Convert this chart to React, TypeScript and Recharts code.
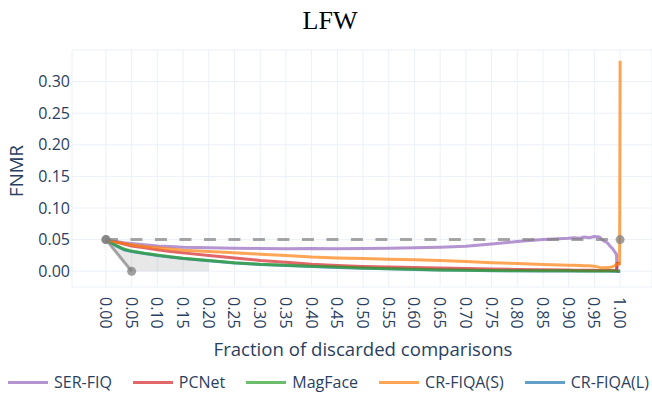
import React from 'react';
import { ComposedChart, Line, Area, XAxis, YAxis, CartesianGrid } from 'recharts';

// Fraction of discarded comparisons (shared x grid for all curves)
const FRACTIONS = [
  0, 0.01, 0.02, 0.035, 0.05, 0.075, 0.1, 0.125, 0.15, 0.2,
  0.25, 0.3, 0.35, 0.4, 0.45, 0.5, 0.55, 0.6, 0.65, 0.7,
  0.75, 0.8, 0.85, 0.9, 0.91, 0.92, 0.93, 0.94, 0.95, 0.96,
  0.965, 0.97, 0.975, 0.98, 0.985, 0.99, 0.993, 0.994, 0.999, 1.0,
];

// FNMR per quality method
const SER_FIQ = [
  0.05, 0.048, 0.047, 0.045, 0.044, 0.042, 0.04, 0.039, 0.038, 0.037,
  0.0365, 0.036, 0.0355, 0.036, 0.0355, 0.036, 0.0365, 0.037, 0.038, 0.0395,
  0.043, 0.047, 0.05, 0.052, 0.053, 0.052, 0.054, 0.053, 0.055, 0.054,
  0.05, 0.047, 0.045, 0.04, 0.036, 0.03, 0.027, 0, 0, 0,
];
const PCNET = [
  0.05, 0.048, 0.046, 0.043, 0.04, 0.037, 0.034, 0.031, 0.029, 0.025,
  0.021, 0.017, 0.014, 0.011, 0.009, 0.0075, 0.0065, 0.0058, 0.005, 0.0042,
  0.0035, 0.0028, 0.0022, 0.0018, 0.0017, 0.0016, 0.0015, 0.0015, 0.0014, 0.0013,
  0.0013, 0.0012, 0.0012, 0.0011, 0.0011, 0.001, 0.001, 0.0125, 0.0125, 0.0125,
];
const MAGFACE = [
  0.05, 0.045, 0.041, 0.035, 0.032, 0.0285, 0.0255, 0.023, 0.0205, 0.017,
  0.0135, 0.011, 0.0095, 0.008, 0.0065, 0.005, 0.004, 0.003, 0.002, 0.0015,
  0.001, 0.0008, 0.0006, 0.0006, 0.0006, 0.0005, 0.0005, 0.0005, 0.0004, 0.0004,
  0.0004, 0.0003, 0.0003, 0.0003, 0.0002, 0.0002, 0.0002, 0.0001, 0, 0,
];
const CR_FIQA_S = [
  0.05, 0.048, 0.046, 0.044, 0.042, 0.039, 0.037, 0.035, 0.033, 0.031,
  0.029, 0.027, 0.025, 0.0225, 0.021, 0.02, 0.019, 0.018, 0.017, 0.0155,
  0.0135, 0.012, 0.0105, 0.0095, 0.0093, 0.009, 0.0088, 0.0085, 0.008, 0.006,
  0.0055, 0.0055, 0.0058, 0.006, 0.007, 0.009, 0.011, 0.011, 0.011, 0.333,
];
const CR_FIQA_L = [
  0.05, 0.045, 0.04, 0.034, 0.031, 0.028, 0.025, 0.0225, 0.02, 0.0165,
  0.013, 0.0105, 0.009, 0.0075, 0.006, 0.0048, 0.0038, 0.0028, 0.0019, 0.0014,
  0.0009, 0.0007, 0.0005, 0.0005, 0.0005, 0.0004, 0.0004, 0.0004, 0.0003, 0.0003,
  0.0003, 0.0002, 0.0002, 0.0002, 0.0001, 0.0001, 0.0001, 0, 0, 0,
];

// Shaded region between the oracle curve and the best curve (first points)
const SHADE_LOW = [0.05, 0.04, 0.03, 0.015, 0, 0, 0, 0, 0, 0];
const SHADE_HIGH = [0.05, 0.045, 0.041, 0.035, 0.032, 0.0285, 0.0255, 0.023, 0.0205, 0.017];

// Reference curves: random rejection (dashed) and ideal rejection
const BASELINE_X = [0, 1];
const BASELINE_Y = [0.05, 0.05];
const ORACLE_X = [0, 0.05];
const ORACLE_Y = [0.05, 0];

const X_TICKS = [
  0, 0.05, 0.1, 0.15, 0.2, 0.25, 0.3, 0.35, 0.4, 0.45, 0.5,
  0.55, 0.6, 0.65, 0.7, 0.75, 0.8, 0.85, 0.9, 0.95, 1,
];
const Y_TICKS = [0, 0.05, 0.1, 0.15, 0.2, 0.25, 0.3, 0.35];

const SERIES = [
  { key: 'serFiq', name: 'SER-FIQ', color: '#9467bd', values: SER_FIQ },
  { key: 'pcnet', name: 'PCNet', color: '#d62728', values: PCNET },
  { key: 'magface', name: 'MagFace', color: '#2ca02c', values: MAGFACE },
  { key: 'crS', name: 'CR-FIQA(S)', color: '#ff7f0e', values: CR_FIQA_S },
  { key: 'crL', name: 'CR-FIQA(L)', color: '#1f77b4', values: CR_FIQA_L },
];
// drawing order (bottom to top)
const DRAW_ORDER = ['crL', 'serFiq', 'pcnet', 'magface', 'crS'];

const table = FRACTIONS.map((x, i) => {
  const row: Record<string, number> = { x };
  SERIES.forEach((s) => {
    row[s.key] = s.values[i];
  });
  return row;
});
const shadeData = SHADE_LOW.map((lo, i) => ({ x: FRACTIONS[i], band: [lo, SHADE_HIGH[i]] }));
const baselineData = BASELINE_X.map((x, i) => ({ x, y: BASELINE_Y[i] }));
const oracleData = ORACLE_X.map((x, i) => ({ x, y: ORACLE_Y[i] }));

const TEXT = '#2a3f5f';
const FONT = '"Open Sans", sans-serif';
const GRID = '#ebf0f8';
const TITLE_SIZE = 18.6;

const XTick = (props: any) => {
  const { x, y, payload } = props;
  return (
    <text
      x={x}
      y={y}
      transform={`rotate(90 ${x} ${y})`}
      textAnchor="start"
      dominantBaseline="central"
      fill={TEXT}
      fontSize={16}
      fontFamily={FONT}
    >
      {Number(payload.value).toFixed(2)}
    </text>
  );
};

const grayDot = (props: any) => (
  <circle key={`d-${props.index}`} cx={props.cx} cy={props.cy} r={4.5} fill="#808080" fillOpacity={0.75} />
);

export default function App() {
  return (
    <div style={{ position: 'absolute', left: 0, top: 0, width: 652, height: 393, background: '#fff', fontFamily: FONT }}>
      <div
        style={{
          position: 'absolute',
          left: 0,
          width: 660,
          top: 6,
          textAlign: 'center',
          fontFamily: '"Liberation Serif", "Times New Roman", serif',
          fontSize: 26,
          color: '#000',
          lineHeight: '30px',
        }}
      >
        LFW
      </div>
      <ComposedChart width={652} height={393} data={table} margin={{ top: 50, right: 0, bottom: 0, left: 0 }}>
        <CartesianGrid stroke={GRID} strokeWidth={1} />
        <XAxis
          dataKey="x"
          type="number"
          domain={[-0.066, 1.062]}
          ticks={X_TICKS}
          interval={0}
          allowDataOverflow
          axisLine={false}
          tickLine={false}
          tickSize={0}
          tickMargin={10}
          height={106}
          tick={<XTick />}
          label={{
            content: () => (
              <text x={363} y={356} textAnchor="middle" fill={TEXT} fontSize={TITLE_SIZE} fontFamily={FONT}>
                Fraction of discarded comparisons
              </text>
            ),
          }}
        />
        <YAxis
          type="number"
          domain={[-0.025, 0.35]}
          ticks={Y_TICKS}
          interval={0}
          allowDataOverflow
          width={72}
          axisLine={false}
          tickLine={false}
          tickSize={0}
          tickMargin={2}
          tick={{ fill: TEXT, fontSize: 16, fontFamily: FONT }}
          tickFormatter={(v: number) => (Math.abs(v - 0.35) < 1e-9 ? '' : v.toFixed(2))}
          label={{
            content: () => (
              <text
                x={23}
                y={171}
                transform="rotate(-90 23 171)"
                textAnchor="middle"
                fill={TEXT}
                fontSize={TITLE_SIZE}
                fontFamily={FONT}
              >
                FNMR
              </text>
            ),
          }}
        />
        <Area
          data={shadeData}
          dataKey="band"
          type="linear"
          stroke="none"
          fill="#808080"
          fillOpacity={0.18}
          isAnimationActive={false}
          dot={false}
          activeDot={false}
        />
        {DRAW_ORDER.map((k) => {
          const s = SERIES.find((q) => q.key === k)!;
          return (
            <Line
              key={s.key}
              dataKey={s.key}
              name={s.name}
              type="linear"
              stroke={s.color}
              strokeOpacity={0.7}
              strokeWidth={3}
              strokeLinejoin="round"
              dot={false}
              activeDot={false}
              isAnimationActive={false}
            />
          );
        })}
        <Line
          data={baselineData}
          dataKey="y"
          type="linear"
          stroke="#808080"
          strokeOpacity={0.7}
          strokeWidth={3}
          strokeDasharray="12 12.5"
          dot={grayDot}
          activeDot={false}
          isAnimationActive={false}
        />
        <Line
          data={oracleData}
          dataKey="y"
          type="linear"
          stroke="#808080"
          strokeOpacity={0.7}
          strokeWidth={3}
          dot={grayDot}
          activeDot={false}
          isAnimationActive={false}
        />
      </ComposedChart>
      <div
        style={{
          position: 'absolute',
          left: 8,
          top: 372,
          display: 'flex',
          alignItems: 'center',
          fontFamily: FONT,
          fontSize: 16,
          color: TEXT,
          lineHeight: '20px',
          whiteSpace: 'nowrap',
        }}
      >
        {SERIES.map((s) => (
          <div key={s.key} style={{ display: 'flex', alignItems: 'center', marginRight: 21 }}>
            <span
              style={{ display: 'inline-block', width: 40, height: 3, background: s.color, opacity: 0.7, marginRight: 6 }}
            />
            <span>{s.name}</span>
          </div>
        ))}
      </div>
    </div>
  );
}
